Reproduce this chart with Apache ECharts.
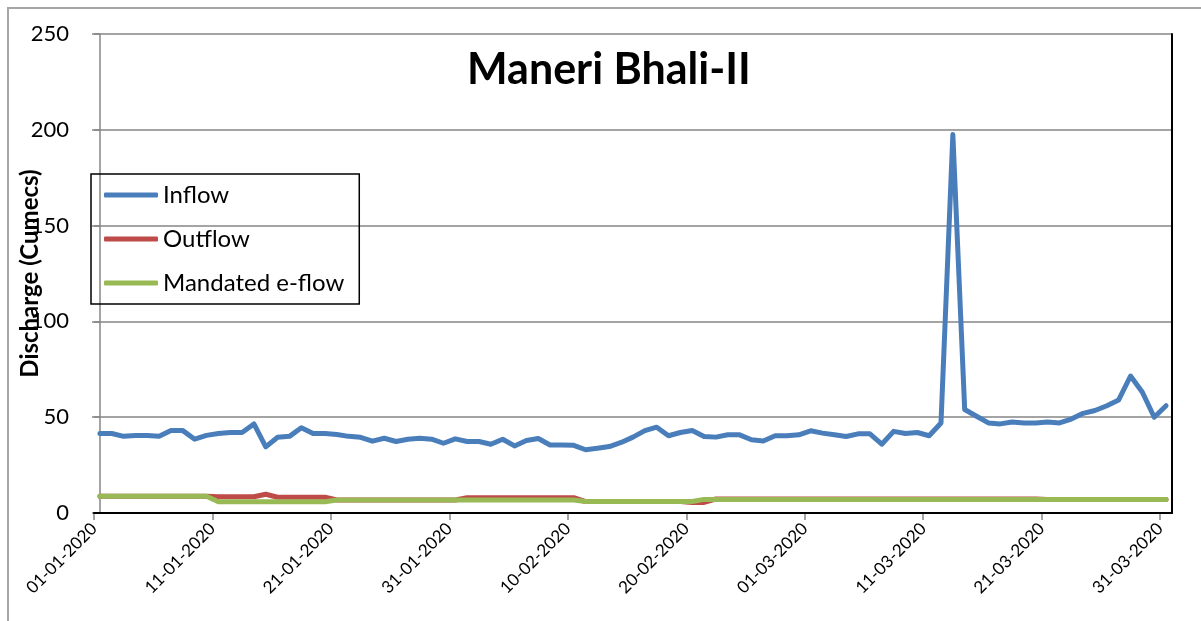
<!DOCTYPE html>
<html>
<head>
<meta charset="utf-8">
<script src="https://cdn.jsdelivr.net/npm/echarts@6/dist/echarts.min.js"></script>
<style>
  body { margin: 0; background: #fff; }
  #main { width: 1201px; height: 621px; }
</style>
</head>
<body>
<!-- chart container -->
<div id="main"></div>
<script>
// daily labels 01-01-2020 .. 31-03-2020, plus the empty 01-04 slot at the right edge
var months = [[1, 31], [2, 29], [3, 31]]
var dates = []
months.forEach(function (m) {
  for (var d = 1; d <= m[1]; d++) {
    dates.push((d < 10 ? '0' : '') + d + '-0' + m[0] + '-2020')
  }
})
dates.push('01-04-2020')

var inflow = [
  41.5, 41.5, 40, 40.5, 40.5, 40, 43, 43, 38.5, 40.5,
  41.5, 42, 42, 46.5, 34.5, 39.5, 40, 44.5, 41.5, 41.5,
  41, 40, 39.5, 37.5, 39, 37.3, 38.5, 39, 38.5, 36.4,
  38.7, 37.3, 37.3, 35.9, 38.5, 35, 37.8, 38.9, 35.5, 35.5,
  35.3, 33, 33.8, 34.7, 36.8, 39.6, 43, 44.8, 40.3, 42,
  43.1, 39.9, 39.6, 40.8, 40.8, 38.2, 37.6, 40.3, 40.3, 40.8,
  42.9, 41.7, 40.8, 39.9, 41.3, 41.3, 35.9, 42.6, 41.5, 42,
  40.3, 47, 197.5, 54, 50.5, 47, 46.5, 47.5, 47, 47,
  47.5, 47, 49, 52, 53.5, 56, 59, 71.5, 63, 50,
  56
]
var outflow = [
  8.8, 8.8, 8.8, 8.8, 8.8, 8.8, 8.8, 8.8, 8.8, 8.8,
  8.5, 8.5, 8.5, 8.5, 9.8, 8.2, 8.2, 8.2, 8.2, 8.2,
  6.8, 6.8, 6.8, 6.8, 6.8, 6.8, 6.8, 6.8, 6.8, 6.8,
  6.8, 8, 8, 8, 8, 8, 8, 8, 8, 8,
  8, 6, 6, 6, 6, 6, 6, 6, 6, 6,
  5.5, 5.5, 7.3, 7.3, 7.3, 7.3, 7.3, 7.3, 7.3, 7.3,
  7.3, 7.3, 7.3, 7.3, 7.3, 7.3, 7.3, 7.3, 7.3, 7.3,
  7.3, 7.3, 7.3, 7.3, 7.3, 7.3, 7.3, 7.3, 7.3, 7.3,
  7.1, 7.1, 7.1, 7.1, 7.1, 7.1, 7.1, 7.1, 7.1, 7.1,
  7.1
]
var eflow = [
  8.8, 8.8, 8.8, 8.8, 8.8, 8.8, 8.8, 8.8, 8.8, 8.8,
  5.9, 5.9, 5.9, 5.9, 5.9, 5.9, 5.9, 5.9, 5.9, 5.9,
  6.8, 6.8, 6.8, 6.8, 6.8, 6.8, 6.8, 6.8, 6.8, 6.8,
  6.8, 6.8, 6.8, 6.8, 6.8, 6.8, 6.8, 6.8, 6.8, 6.8,
  6.8, 6, 6, 6, 6, 6, 6, 6, 6, 6,
  6, 7.1, 7.1, 7.1, 7.1, 7.1, 7.1, 7.1, 7.1, 7.1,
  7.1, 7.1, 7.1, 7.1, 7.1, 7.1, 7.1, 7.1, 7.1, 7.1,
  7.1, 7.1, 7.1, 7.1, 7.1, 7.1, 7.1, 7.1, 7.1, 7.1,
  7.1, 7.1, 7.1, 7.1, 7.1, 7.1, 7.1, 7.1, 7.1, 7.1,
  7.1
]

var FONT = 'Lato'
var GRAY = '#868686'

// points sit half a day to the right of the date ticks (as in the original)
function pairs (arr) {
  return arr.map(function (v, i) { return [i, v] })
}

var option = {
  animation: false,
  textStyle: { fontFamily: FONT },
  graphic: [{
    type: 'rect',
    shape: { x: 8, y: 8, width: 1300, height: 700 },
    style: { fill: 'none', stroke: '#a6a6a6', lineWidth: 2 },
    silent: true
  }],
  title: {
    text: 'Maneri Bhali-II',
    left: 462,
    top: 44,
    textStyle: { fontFamily: FONT, fontSize: 43, fontWeight: 'bold', color: '#000' }
  },
  legend: {
    orient: 'vertical',
    left: 91,
    top: 174,
    padding: [8, 15, 8, 13],
    itemGap: 18,
    itemWidth: 54,
    itemHeight: 5,
    icon: 'roundRect',
    borderColor: '#000',
    borderWidth: 1.5,
    borderRadius: 0,
    textStyle: { fontFamily: FONT, fontSize: 24, color: '#000', lineHeight: 26 },
    data: ['Inflow', 'Outflow', 'Mandated e-flow']
  },
  grid: { left: 94, top: 34, right: 29, bottom: 108, containLabel: false, outerBoundsMode: 'none' },
  xAxis: [
    {
      type: 'category',
      data: dates,
      boundaryGap: false,
      axisLine: { lineStyle: { color: GRAY, width: 1.5 } },
      axisTick: { interval: 9, length: 7, lineStyle: { color: GRAY, width: 1.5 } },
      axisLabel: { interval: 9, rotate: 45, margin: 13, fontFamily: FONT, fontSize: 17, color: '#000' },
      splitLine: { show: false }
    },
    {
      type: 'value',
      position: 'top',
      min: -0.5,
      max: 90.5,
      z: 5,
      axisLine: { show: true, lineStyle: { color: '#000', width: 2 } },
      axisTick: { show: false },
      axisLabel: { show: false },
      splitLine: { show: false }
    }
  ],
  yAxis: [
    {
      type: 'value',
      min: 0,
      max: 250,
      interval: 50,
      name: 'Discharge (Cumecs)',
      nameLocation: 'middle',
      nameGap: 52,
      nameMoveOverlap: false,
      nameTextStyle: { fontFamily: FONT, fontSize: 24, fontWeight: 'bold', color: '#000' },
      axisLine: { show: true, lineStyle: { color: GRAY, width: 1.5 } },
      axisTick: { show: true, length: 8, lineStyle: { color: GRAY, width: 1.5 } },
      axisLabel: { margin: 25, fontFamily: FONT, fontSize: 22, color: '#000' },
      splitLine: { lineStyle: { color: GRAY, width: 1.5 } }
    },
    {
      type: 'value',
      position: 'right',
      min: 0,
      max: 250,
      z: 5,
      axisLine: { show: true, lineStyle: { color: '#000', width: 2 } },
      axisTick: { show: false },
      axisLabel: { show: false },
      splitLine: { show: false }
    }
  ],
  series: [
    {
      name: 'Inflow',
      type: 'line',
      xAxisIndex: 1,
      yAxisIndex: 0,
      data: pairs(inflow),
      showSymbol: false,
      color: '#4a7ebb',
      lineStyle: { width: 5, cap: 'round', join: 'round' }
    },
    {
      name: 'Outflow',
      type: 'line',
      xAxisIndex: 1,
      yAxisIndex: 0,
      data: pairs(outflow),
      showSymbol: false,
      color: '#be4b48',
      lineStyle: { width: 5, cap: 'round', join: 'round' }
    },
    {
      name: 'Mandated e-flow',
      type: 'line',
      xAxisIndex: 1,
      yAxisIndex: 0,
      data: pairs(eflow),
      showSymbol: false,
      color: '#98b954',
      lineStyle: { width: 5, cap: 'round', join: 'round' }
    }
  ]
}

var chart = echarts.init(document.getElementById('main'))
chart.setOption(option)
</script>
</body>
</html>
